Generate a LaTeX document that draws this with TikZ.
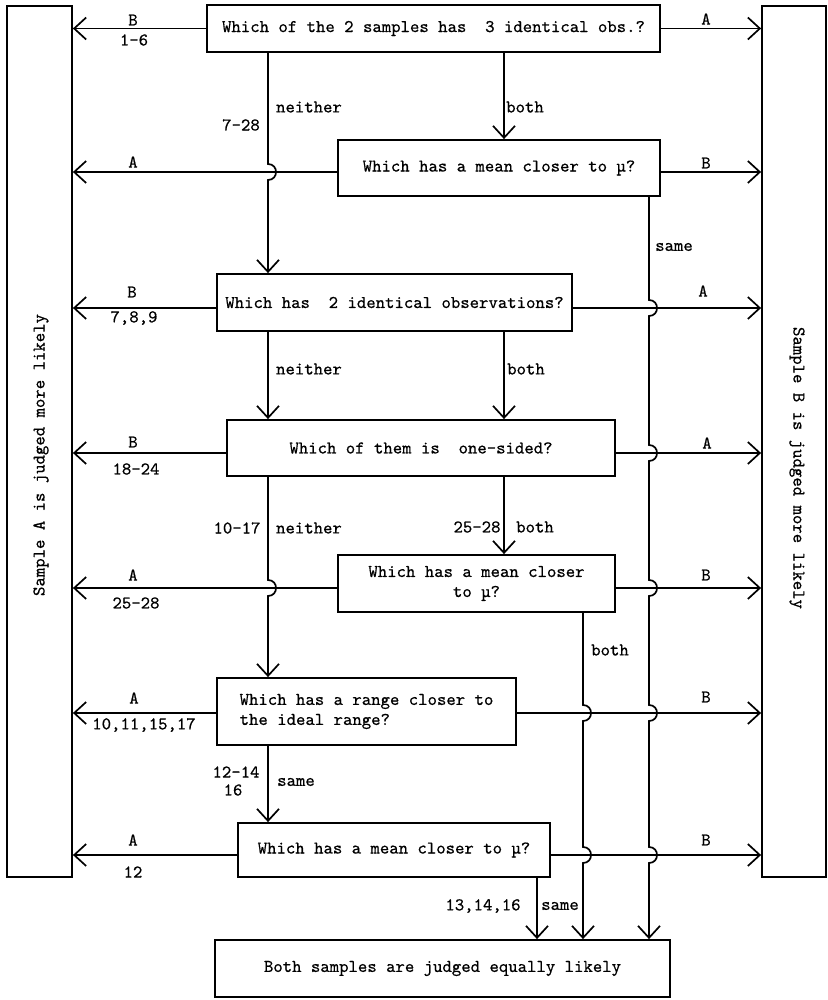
\documentclass[tikz,border=0pt]{standalone}
\usepackage{fontspec}
\setmonofont{lmmono10-regular.otf}[FakeBold=0.6]
\usetikzlibrary{arrows.meta}
\newcommand{\jmp}[1]{-- ([yshift=8pt]#1) .. controls ([shift={(10.7pt,8pt)}]#1) and ([shift={(10.7pt,-8pt)}]#1) .. ([yshift=-8pt]#1)}
\begin{document}
\begin{tikzpicture}[x=1pt,y=-1pt,
  every node/.style={font=\ttfamily\fontsize{17.9}{20}\selectfont},
  box/.style={draw, line width=1.8pt, inner sep=0pt, align=center},
  bar/.style={draw, line width=1.8pt, inner sep=0pt},
  lbl/.style={inner sep=0pt},
  wire/.style={line width=1.7pt},
  arr/.style={wire, -{Straight Barb[length=12pt,width=22pt]}},
]
\useasboundingbox (0,0) rectangle (827,1000);
% side bars
\node[bar, minimum width=65pt, minimum height=871pt] (barA) at (39.5,441.5) {};
\node[bar, minimum width=64pt, minimum height=871pt] (barB) at (794,441.5) {};
\node[lbl, rotate=90] (labA) at (41,455) {Sample A is judged more likely};
\node[lbl, rotate=-90] (labB) at (797,468) {Sample B is judged more likely};
% boxes
\node[box, minimum width=453pt, minimum height=47pt] (b1) at (433.5,28.5) {Which of the 2 samples has~~3 identical obs.?};
\node[box, minimum width=322pt, minimum height=56pt] (b2) at (499,168) {Which has a mean closer to µ?};
\node[box, minimum width=355pt, minimum height=57pt] (b3) at (394.5,302.5) {Which has~~2 identical observations?};
\node[box, minimum width=388pt, minimum height=56pt] (b4) at (421,448) {Which of them is~~one-sided?};
\node[box, minimum width=277pt, minimum height=57pt] (b5) at (476.5,583.5) {Which has a mean closer\\to µ?};
\node[box, minimum width=299pt, minimum height=67pt, align=left] (b6) at (366.5,711.5) {Which has a range closer to\\the ideal range?};
\node[box, minimum width=312pt, minimum height=54pt] (b7) at (394,850) {Which has a mean closer to µ?};
\node[box, minimum width=455pt, minimum height=57pt] (fin) at (442.5,968.5) {Both samples are judged equally likely};
% columns
\coordinate (cL) at (268,0);
\coordinate (cM) at (504,0);
\coordinate (cT) at (537,0);
\coordinate (cB) at (583,0);
\coordinate (cS) at (649,0);
% arrow start points
\coordinate (w1) at (b1.west); \coordinate (e1) at (b1.east);
\coordinate (w2) at ([yshift=-4pt]b2.west); \coordinate (e2) at ([yshift=-4pt]b2.east);
\coordinate (w3) at ([yshift=-5.5pt]b3.west); \coordinate (e3) at ([yshift=-5.5pt]b3.east);
\coordinate (w4) at ([yshift=-5pt]b4.west); \coordinate (e4) at ([yshift=-5pt]b4.east);
\coordinate (w5) at ([yshift=-4.5pt]b5.west); \coordinate (e5) at ([yshift=-4.5pt]b5.east);
\coordinate (w6) at ([yshift=-1.5pt]b6.west); \coordinate (e6) at ([yshift=-1.5pt]b6.east);
\coordinate (w7) at ([yshift=-5pt]b7.west); \coordinate (e7) at ([yshift=-5pt]b7.east);
% jump points
\coordinate (jL2) at (cL |- w2);
\coordinate (jL5) at (cL |- w5);
\coordinate (jS3) at (cS |- e3);
\coordinate (jS4) at (cS |- e4);
\coordinate (jS5) at (cS |- e5);
\coordinate (jS6) at (cS |- e6);
\coordinate (jS7) at (cS |- e7);
\coordinate (jB6) at (cB |- e6);
\coordinate (jB7) at (cB |- e7);
% horizontal arrows
\foreach \i in {1,...,7}{
  \draw[arr] (w\i) -- (w\i -| barA.east);
  \draw[arr] (e\i) -- (e\i -| barB.west);
}
% vertical connectors
\draw[arr] (cL |- b1.south) \jmp{jL2} -- (cL |- b3.north);
\draw[arr] (cM |- b1.south) -- (cM |- b2.north);
\draw[arr] (cS |- b2.south) \jmp{jS3} \jmp{jS4} \jmp{jS5} \jmp{jS6} \jmp{jS7} -- (cS |- fin.north);
\draw[arr] (cL |- b3.south) -- (cL |- b4.north);
\draw[arr] (cM |- b3.south) -- (cM |- b4.north);
\draw[arr] (cL |- b4.south) \jmp{jL5} -- (cL |- b6.north);
\draw[arr] (cM |- b4.south) -- (cM |- b5.north);
\draw[arr] (cB |- b5.south) \jmp{jB6} \jmp{jB7} -- (cB |- fin.north);
\draw[arr] (cL |- b6.south) -- (cL |- b7.north);
\draw[arr] (cT |- b7.south) -- (cT |- fin.north);
% labels
\node[lbl] (t1B) at (133,20) {B};
\node[lbl] (t1n) at (134,40) {1-6};
\node[lbl] (t1A) at (706,19) {A};
\node[lbl] (t728) at (241,125) {7-28};
\node[lbl] (tn1) at (309,107) {neither};
\node[lbl] (tb1) at (525,107) {both};
\node[lbl] (t2A) at (133,162) {A};
\node[lbl] (t2B) at (706,163) {B};
\node[lbl] (ts2) at (674,247) {same};
\node[lbl] (t3B) at (132,292) {B};
\node[lbl] (t3n) at (134,318) {7,8,9};
\node[lbl] (t3A) at (703,291) {A};
\node[lbl] (tn3) at (309,369) {neither};
\node[lbl] (tb3) at (526,369) {both};
\node[lbl] (t4B) at (133,442) {B};
\node[lbl] (t4n) at (136,469) {18-24};
\node[lbl] (t4A) at (707,443) {A};
\node[lbl] (t1017) at (237,528) {10-17};
\node[lbl] (tn4) at (309,528) {neither};
\node[lbl] (t2528a) at (477,527) {25-28};
\node[lbl] (tb4) at (535,527) {both};
\node[lbl] (t5A) at (133,575) {A};
\node[lbl] (t5n) at (136,603) {25-28};
\node[lbl] (t5B) at (706,575) {B};
\node[lbl] (tb5) at (610,650) {both};
\node[lbl] (t6A) at (134,698) {A};
\node[lbl] (t6n) at (144,725) {10,11,15,17};
\node[lbl] (t6B) at (706,697) {B};
\node[lbl] (t1214) at (236,772) {12-14};
\node[lbl] (t16) at (233,790) {16};
\node[lbl] (ts6) at (296,782) {same};
\node[lbl] (t7A) at (133,840) {A};
\node[lbl] (t7n) at (133,872) {12};
\node[lbl] (t7B) at (706,840) {B};
\node[lbl] (t131416) at (483,906) {13,14,16};
\node[lbl] (ts7) at (560,906) {same};
\end{tikzpicture}
\end{document}
